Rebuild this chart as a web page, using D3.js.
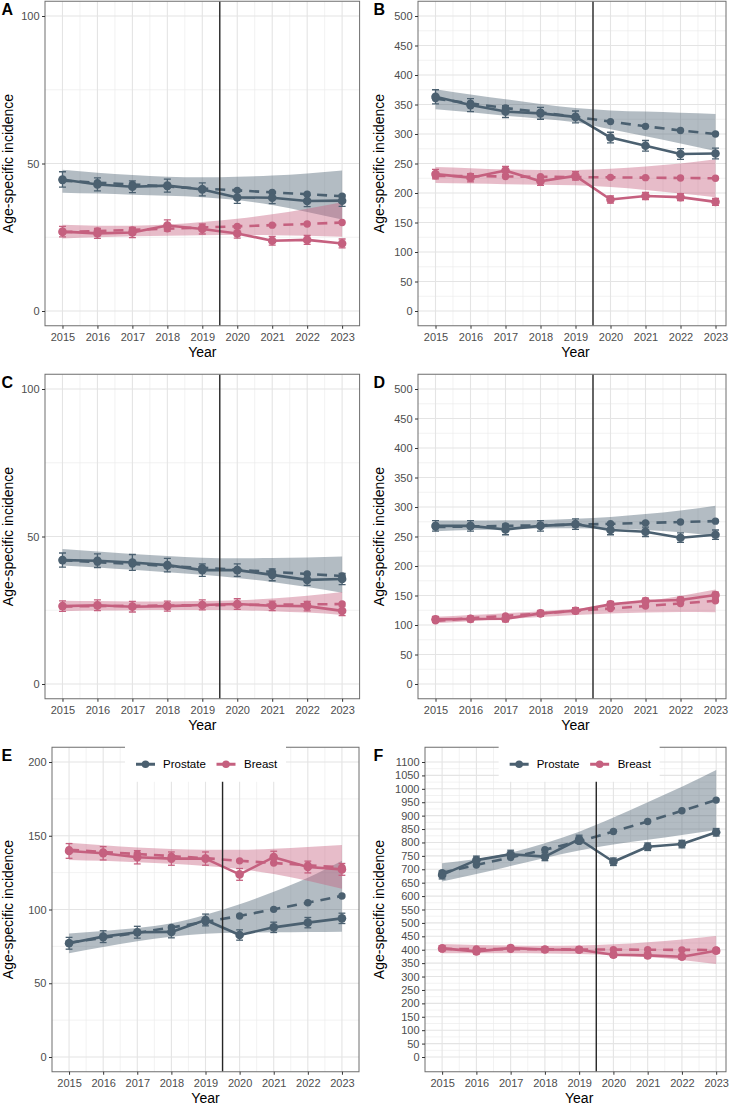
<!DOCTYPE html>
<html><head><meta charset="utf-8">
<script src="https://cdn.jsdelivr.net/npm/d3@7"></script>
<style>
body{margin:0;background:#fff}
svg{display:block}
text{font-family:Arial,"Liberation Sans",Helvetica,sans-serif}
</style>
</head><body>
<svg id="c" width="735" height="1105"></svg>
<script>
// ---------- data ----------
const years = [2015, 2016, 2017, 2018, 2019, 2020, 2021, 2022, 2023];
const seriesNames = ["Prostate", "Breast"];
const panelLabels = ["A", "B", "C", "D", "E", "F"];
const yTicks100 = [0, 50, 100];
const yTicks500 = [0, 50, 100, 150, 200, 250, 300, 350, 400, 450, 500];
const yTicks200 = [0, 50, 100, 150, 200];
const yTicks1100 = [0, 50, 100, 150, 200, 250, 300, 350, 400, 450, 500, 550, 600, 650, 700, 750, 800, 850, 900, 950, 1000, 1050, 1100];
const xTitle = "Year";
const yTitle = "Age-specific incidence";

// Panel A
const A_prosObs = [44.6, 42.9, 42.1, 42.5, 41.2, 38.5, 38.4, 37.3, 37.4];
const A_prosFit = [44.2, 43.5, 42.9, 42.2, 41.5, 40.9, 40.2, 39.6, 38.9];
const A_prosLo  = [40.1, 39.8, 39.4, 39.1, 38.6, 37.6, 35.9, 33.6, 31.0];
const A_prosHi  = [47.9, 46.9, 46.1, 45.5, 45.3, 45.5, 45.9, 46.6, 47.6];
const A_prosErr = [2.6, 2.2, 2.0, 2.2, 2.2, 2.0, 2.0, 1.9, 1.9];
const A_breObs  = [26.9, 26.3, 26.6, 29.0, 27.8, 26.3, 23.8, 24.1, 22.9];
const A_breFit  = [26.7, 27.1, 27.5, 27.9, 28.3, 28.7, 29.1, 29.5, 30.0];
const A_breLo   = [24.6, 25.0, 25.3, 25.5, 25.7, 25.8, 25.7, 25.5, 25.2];
const A_breHi   = [29.2, 28.9, 28.9, 29.3, 30.2, 31.3, 32.8, 34.7, 36.9];
const A_breErr  = [1.8, 1.7, 1.7, 1.9, 1.7, 1.6, 1.5, 1.5, 1.5];

// Panel B
const B_prosObs = [363, 349, 338, 335, 329, 294, 280, 266, 267];
const B_prosFit = [360, 352, 344, 337, 329, 321, 313, 306, 300];
const B_prosLo  = [342, 337, 331, 326, 320, 308, 296, 284, 271];
const B_prosHi  = [376, 367, 359, 351, 344, 340, 338, 336, 334];
const B_prosErr = [12, 11, 10, 10, 10, 9, 9, 9, 9];
const B_breObs  = [232, 226, 238, 220, 229, 189, 195, 193, 185];
const B_breFit  = [229, 228.5, 228, 227.5, 227, 226.5, 226, 225.5, 225];
const B_breLo   = [217, 216, 215, 214, 213, 210, 205, 199, 193];
const B_breHi   = [244, 242, 240, 239, 239, 241, 245, 250, 257];
const B_breErr  = [8, 7, 7, 7, 7, 6, 6, 6, 6];

// Panel C
const C_prosObs = [42.0, 41.8, 41.2, 40.3, 38.6, 38.6, 37.0, 35.3, 35.6];
const C_prosFit = [42.0, 41.3, 40.7, 40.0, 39.4, 38.7, 38.0, 37.3, 36.6];
const C_prosLo  = [40.2, 39.5, 38.7, 37.9, 37.0, 35.9, 34.6, 32.9, 30.9];
const C_prosHi  = [45.8, 44.9, 44.1, 43.4, 42.8, 42.6, 42.7, 42.9, 43.2];
const C_prosErr = [2.4, 2.3, 2.7, 2.3, 2.1, 2.1, 2.0, 1.9, 1.9];
const C_breObs  = [26.4, 26.7, 26.2, 26.4, 26.8, 27.1, 26.5, 26.4, 24.8];
const C_breFit  = [26.3, 26.4, 26.5, 26.6, 26.7, 26.8, 26.9, 27.0, 27.1];
const C_breLo   = [24.7, 24.9, 25.0, 25.1, 25.1, 25.0, 24.7, 24.2, 23.4];
const C_breHi   = [28.2, 28.1, 28.0, 28.0, 28.1, 28.4, 29.0, 29.9, 31.2];
const C_breErr  = [1.8, 1.8, 1.8, 1.7, 1.7, 1.8, 1.6, 1.6, 1.6];

// Panel D
const D_prosObs = [268, 268, 262, 268, 271, 261, 258, 248, 253];
const D_prosFit = [266, 267, 268, 269, 270, 271.5, 273, 274.5, 276];
const D_prosLo  = [259, 261, 262.5, 263.5, 264, 263, 261, 257, 251];
const D_prosHi  = [277, 277, 277.5, 278, 280, 283, 288, 294, 302];
const D_prosErr = [9, 9, 9, 9, 9, 8, 8, 8, 8];
const D_breObs  = [109.6, 110.2, 110.5, 119.7, 124.2, 135, 140.7, 142.4, 150.8];
const D_breFit  = [107, 111.5, 115.5, 119.5, 124, 128, 132, 136.5, 141];
const D_breLo   = [103, 106.5, 110, 113.5, 117, 119.5, 121, 122, 121.5];
const D_breHi   = [114, 117, 120, 123.5, 127.5, 133, 140, 149, 160];
const D_breErr  = [5, 5, 5, 5, 5, 5, 5, 5, 5];

// Panel E
const E_prosObs = [77.1, 81.6, 84.6, 84.8, 92.9, 82.7, 87.9, 91.1, 94.0];
const E_prosFit = [77.5, 80.8, 84.2, 87.8, 91.6, 95.6, 100.1, 104.6, 109.2];
const E_prosLo  = [70.3, 74.5, 78.5, 81.5, 83.5, 84.2, 84.6, 84.8, 85.0];
const E_prosHi  = [83.8, 85.5, 87.5, 90.6, 96.5, 103.5, 112, 121.5, 133];
const E_prosErr = [4, 4, 4, 4, 4, 3.5, 3.5, 3.5, 3.5];
const E_breObs  = [139.7, 138.1, 135.4, 134.5, 134.5, 123.8, 135.5, 128.8, 127.2];
const E_breFit  = [140.5, 139, 137.6, 136.2, 134.8, 133, 131.5, 130, 128.5];
const E_breLo   = [133.6, 133, 132, 131, 129.5, 127.5, 124, 119.5, 114];
const E_breHi   = [145.3, 143.5, 142, 141, 140.5, 140.5, 141.2, 142.3, 143.7];
const E_breErr  = [5, 4.5, 4.5, 4.5, 4.5, 4, 4, 4, 4];

// Panel F
const F_prosObs = [679, 734, 756, 747, 812, 728, 784, 794, 838];
const F_prosFit = [687, 716, 744, 773, 804, 841, 878, 918, 958];
const F_prosLo  = [654, 682, 712, 742, 770, 792, 810, 828, 846];
const F_prosHi  = [722, 738, 762, 797, 840, 893, 950, 1008, 1070];
const F_prosErr = [15, 15, 15, 15, 15, 14, 14, 14, 14];
const F_breObs  = [405, 394, 406, 401, 400, 381, 379, 374, 396];
const F_breFit  = [403, 402.5, 402, 401.5, 401, 400.5, 400, 399.5, 399];
const F_breLo   = [387, 387, 387, 386, 384, 380, 373, 362, 347];
const F_breHi   = [421, 418, 416, 415, 416, 420, 428, 438, 451];
const F_breErr  = [10, 10, 10, 10, 10, 9, 9, 9, 9];

// ---------- layout ----------
const colors = {Prostate: "#4b6070", Breast: "#c5607f"};
const panels = [
  {label: "A", lim: [0, 100], ticks: yTicks100, px: [45, 359.6], frameR: 359.6, py: [311, 16], ytx: 12.5, legend: false,
   s: {Prostate: [A_prosObs, A_prosFit, A_prosLo, A_prosHi, A_prosErr], Breast: [A_breObs, A_breFit, A_breLo, A_breHi, A_breErr]}},
  {label: "B", lim: [0, 500], ticks: yTicks500, px: [418, 733], frameR: 726, py: [311, 16], ytx: 384, legend: false,
   s: {Prostate: [B_prosObs, B_prosFit, B_prosLo, B_prosHi, B_prosErr], Breast: [B_breObs, B_breFit, B_breLo, B_breHi, B_breErr]}},
  {label: "C", lim: [0, 100], ticks: yTicks100, px: [45, 359.6], frameR: 359.6, py: [684, 389], ytx: 12.5, legend: false,
   s: {Prostate: [C_prosObs, C_prosFit, C_prosLo, C_prosHi, C_prosErr], Breast: [C_breObs, C_breFit, C_breLo, C_breHi, C_breErr]}},
  {label: "D", lim: [0, 500], ticks: yTicks500, px: [418, 733], frameR: 726, py: [684, 389], ytx: 384, legend: false,
   s: {Prostate: [D_prosObs, D_prosFit, D_prosLo, D_prosHi, D_prosErr], Breast: [D_breObs, D_breFit, D_breLo, D_breHi, D_breErr]}},
  {label: "E", lim: [0, 200], ticks: yTicks200, px: [52, 359], frameR: 359, py: [1057, 762], ytx: 12.5, legend: true,
   s: {Prostate: [E_prosObs, E_prosFit, E_prosLo, E_prosHi, E_prosErr], Breast: [E_breObs, E_breFit, E_breLo, E_breHi, E_breErr]}},
  {label: "F", lim: [0, 1100], ticks: yTicks1100, px: [425, 733.3], frameR: 726, py: [1057, 762], ytx: 384, legend: true,
   s: {Prostate: [F_prosObs, F_prosFit, F_prosLo, F_prosHi, F_prosErr], Breast: [F_breObs, F_breFit, F_breLo, F_breHi, F_breErr]}}
];

const svg = d3.select("#c");
const FONT = "Arial, 'Liberation Sans', Helvetica, sans-serif";

panels.forEach((p, pi) => {
  const g = svg.append("g");
  const x = d3.scaleLinear().domain([2014.5, 2023.5]).range(p.px);
  const y = d3.scaleLinear().domain(p.lim).range(p.py);
  const span = p.lim[1] - p.lim[0];
  const yTop = y(p.lim[1] + 0.05 * span);
  const yBot = y(p.lim[0] - 0.05 * span);
  const fL = p.px[0], fR = p.frameR;
  const clipId = "clip" + pi;
  g.append("clipPath").attr("id", clipId).append("rect")
    .attr("x", fL).attr("y", yTop).attr("width", fR - fL).attr("height", yBot - yTop);
  const body = g.append("g").attr("clip-path", `url(#${clipId})`);

  // minor grid
  const minorY = p.ticks.slice(0, -1).map((d, i) => (d + p.ticks[i + 1]) / 2);
  const minorX = years.slice(0, -1).map(d => d + 0.5);
  body.selectAll(".mgy").data(minorY).join("line")
    .attr("x1", fL).attr("x2", fR).attr("y1", d => y(d)).attr("y2", d => y(d))
    .attr("stroke", "#ededed").attr("stroke-width", 0.7);
  body.selectAll(".mgx").data(minorX).join("line")
    .attr("y1", yTop).attr("y2", yBot).attr("x1", d => x(d)).attr("x2", d => x(d))
    .attr("stroke", "#ededed").attr("stroke-width", 0.7);
  // major grid
  body.selectAll(".gy").data(p.ticks).join("line")
    .attr("x1", fL).attr("x2", fR).attr("y1", d => y(d)).attr("y2", d => y(d))
    .attr("stroke", "#e4e4e4").attr("stroke-width", 1.1);
  body.selectAll(".gx").data(years).join("line")
    .attr("y1", yTop).attr("y2", yBot).attr("x1", d => x(d)).attr("x2", d => x(d))
    .attr("stroke", "#e4e4e4").attr("stroke-width", 1.1);

  // ribbons
  seriesNames.forEach(name => {
    const [obs, fit, lo, hi] = p.s[name];
    const area = d3.area().x((d, i) => x(years[i])).y0((d, i) => y(lo[i])).y1((d, i) => y(hi[i]))
      .curve(d3.curveMonotoneX);
    body.append("path").datum(years).attr("d", area)
      .attr("fill", colors[name]).attr("fill-opacity", 0.42).attr("stroke", "none");
  });

  // fitted (dashed)
  seriesNames.forEach(name => {
    const fit = p.s[name][1];
    const line = d3.line().x((d, i) => x(years[i])).y((d, i) => y(fit[i]));
    body.append("path").datum(years).attr("d", line)
      .attr("fill", "none").attr("stroke", colors[name]).attr("stroke-width", 2.6)
      .attr("stroke-dasharray", "10,7");
    body.selectAll(null).data(fit).join("circle")
      .attr("cx", (d, i) => x(years[i])).attr("cy", d => y(d)).attr("r", 3.7)
      .attr("fill", colors[name]);
  });

  // observed (solid) + error bars
  seriesNames.forEach(name => {
    const [obs, fit, lo, hi, err] = p.s[name];
    const line = d3.line().x((d, i) => x(years[i])).y((d, i) => y(obs[i]));
    body.append("path").datum(years).attr("d", line)
      .attr("fill", "none").attr("stroke", colors[name]).attr("stroke-width", 2.6)
      .attr("stroke-linejoin", "round");
    const eb = body.append("g").attr("stroke", colors[name]).attr("stroke-width", 1.3);
    obs.forEach((v, i) => {
      const cx = x(years[i]);
      const w = x(years[i] + 0.1) - cx;
      eb.append("line").attr("x1", cx).attr("x2", cx).attr("y1", y(v - err[i])).attr("y2", y(v + err[i]));
      eb.append("line").attr("x1", cx - w).attr("x2", cx + w).attr("y1", y(v - err[i])).attr("y2", y(v - err[i]));
      eb.append("line").attr("x1", cx - w).attr("x2", cx + w).attr("y1", y(v + err[i])).attr("y2", y(v + err[i]));
    });
    body.selectAll(null).data(obs).join("circle")
      .attr("cx", (d, i) => x(years[i])).attr("cy", d => y(d)).attr("r", 4.3)
      .attr("fill", colors[name]);
  });

  // vertical reference line
  body.append("line").attr("x1", x(2019.5)).attr("x2", x(2019.5)).attr("y1", yTop).attr("y2", yBot)
    .attr("stroke", "#262626").attr("stroke-width", 1.4);

  // frame
  g.append("rect").attr("x", fL).attr("y", yTop).attr("width", fR - fL).attr("height", yBot - yTop)
    .attr("fill", "none").attr("stroke", "#6e6e6e").attr("stroke-width", 1);

  // axes
  const ax = g.append("g").attr("transform", `translate(0,${yBot})`)
    .call(d3.axisBottom(x).tickValues(years).tickFormat(d3.format("d")).tickSize(3).tickPadding(4));
  const ay = g.append("g").attr("transform", `translate(${fL},0)`)
    .call(d3.axisLeft(y).tickValues(p.ticks).tickFormat(d3.format("d")).tickSize(3).tickPadding(2.5));
  [ax, ay].forEach(a => {
    a.select(".domain").remove();
    a.attr("font-size", 11).attr("font-family", FONT);
    a.selectAll("line").attr("stroke", "#333");
    a.selectAll("text").attr("fill", "#4d4d4d");
  });

  // titles
  g.append("text").attr("x", (p.px[0] + p.px[1]) / 2).attr("y", yBot + 30.75)
    .attr("text-anchor", "middle").attr("font-size", 14).attr("fill", "#000").text(xTitle);
  g.append("text").attr("transform", `translate(${p.ytx},${(yTop + yBot) / 2}) rotate(-90)`)
    .attr("text-anchor", "middle").attr("font-size", 14).attr("fill", "#000").text(yTitle);
  g.append("text").attr("x", fL < 100 ? 1.5 : 373.5).attr("y", yTop + 13.25)
    .attr("font-size", 16).attr("font-weight", "bold").attr("fill", "#000").text(panelLabels[pi]);

  // legend
  if (p.legend) {
    const cx = (p.px[0] + p.px[1]) / 2;
    const bL = cx - 80.5;
    const ly = yTop + 17;
    g.append("rect").attr("x", bL).attr("y", yTop - 1.5).attr("width", 161).attr("height", 36)
      .attr("fill", "#fff");
    const items = [{name: "Prostate", k: 11, t: 38}, {name: "Breast", k: 91.5, t: 119}];
    items.forEach(it => {
      g.append("line").attr("x1", bL + it.k).attr("x2", bL + it.k + 19).attr("y1", ly).attr("y2", ly)
        .attr("stroke", colors[it.name]).attr("stroke-width", 3);
      g.append("circle").attr("cx", bL + it.k + 9.5).attr("cy", ly).attr("r", 3.8).attr("fill", colors[it.name]);
      g.append("text").attr("x", bL + it.t).attr("y", ly + 4).attr("font-size", 11.5).attr("fill", "#000")
        .text(it.name);
    });
  }
});
</script>
</body></html>
